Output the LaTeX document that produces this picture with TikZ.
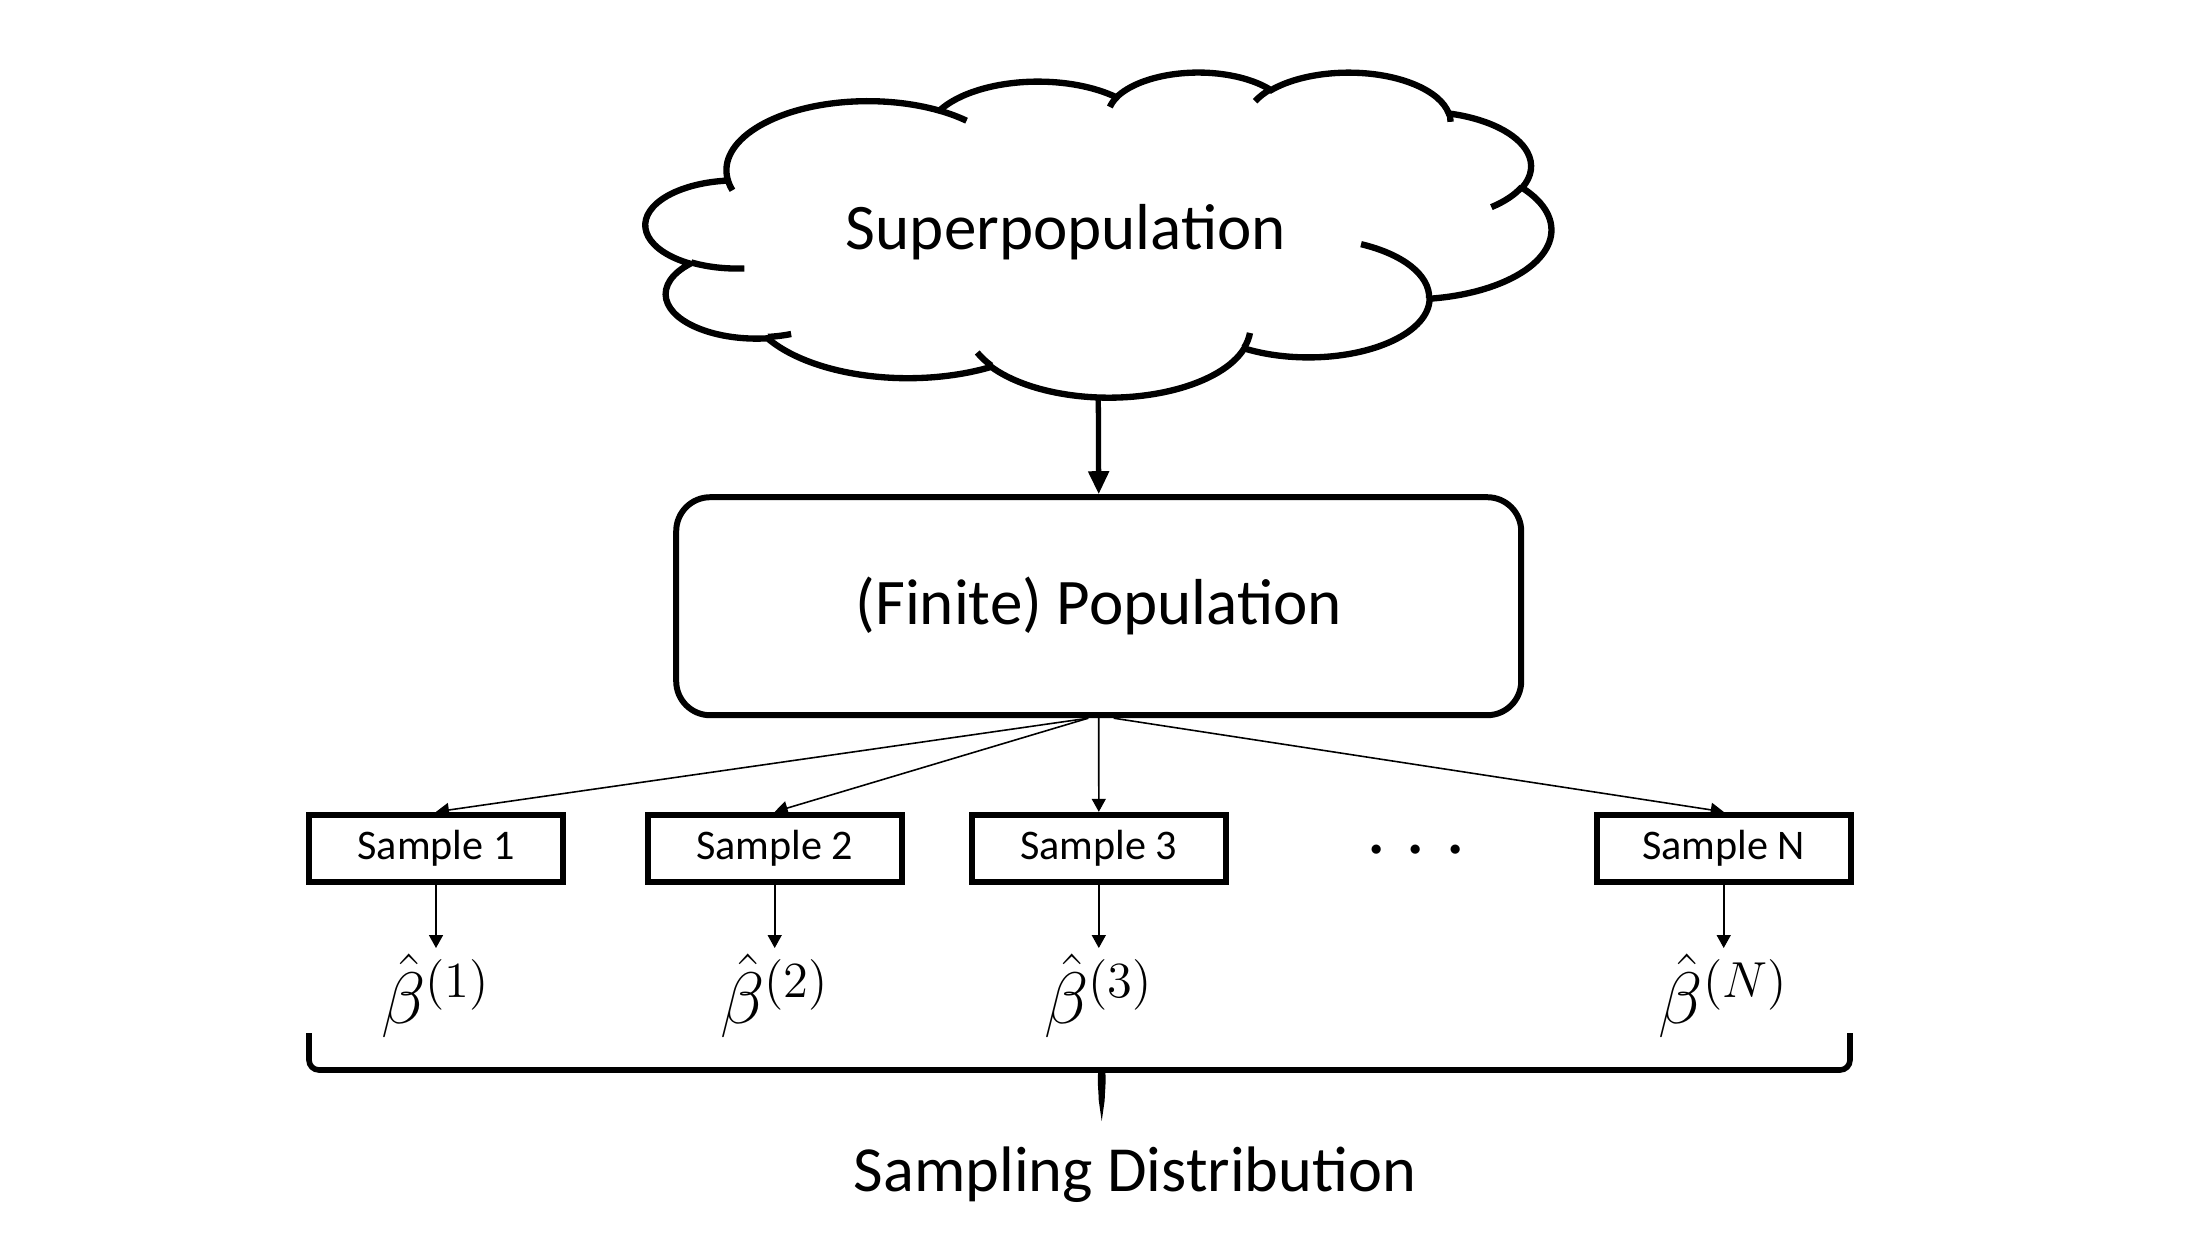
\documentclass[tikz,border=0pt]{standalone}
\usepackage{fontspec}
\setmainfont{Carlito}
\usetikzlibrary{arrows.meta}

\begin{document}
\begin{tikzpicture}[bigfont/.style={font=\fontsize{18.5}{22}\selectfont},
    samplebox/.style={draw, line width=1.7pt, minimum width=2.54cm, minimum height=0.67cm, inner sep=0pt, font=\fontsize{12}{14}\selectfont},
    betanode/.style={inner sep=1.5pt, font=\fontsize{19.5}{23}\selectfont},
    thinarrow/.style={-{Triangle[length=1.3mm, width=1.4mm]}, line width=0.45pt},
    cloudline/.style={line width=1.8pt},
    puff/.style n args={4}{x radius=#1, y radius=#2,
        start angle={atan2(#1*sin(#3),#2*cos(#3))},
        delta angle={mod(atan2(#1*sin(#3+#4),#2*cos(#3+#4))-atan2(#1*sin(#3),#2*cos(#3))+720,360)}},
    node distance=14.77mm]
        \useasboundingbox (0,0) rectangle (22,12.34);

        % cloud
        \begin{scope}[shift={(6.46,11.625)}, xscale=0.041898, yscale=-0.015046]
          \draw[cloudline] (19.5,71.85)
            arc[puff={33.765}{45.95}{-190.4875}{123.7805}]
            arc[puff={26.665}{36.335}{-144.1024}{89.9452}]
            arc[puff={21.825}{29.725}{-145.8079}{99.7230}]
            arc[puff={24.285}{32.975}{-130.9861}{117.2417}]
            arc[puff={26.665}{36.365}{-78.7089}{109.0269}]
            arc[puff={33.875}{46.1}{-46.2673}{130.2690}]
            arc[puff={28.925}{39.335}{0.6250}{114.0333}]
            arc[puff={33.76}{46.075}{22.4516}{115.1726}]
            arc[puff={38.6}{52.715}{66.2426}{75.7110}]
            arc[puff={21.8}{29.59}{-274.9421}{146.7356}]
            arc[puff={21.725}{29.725}{-246.8285}{152.5189}]
            -- cycle;
          \draw[cloudline]
            (23.465,130.885) arc[puff={21.725}{29.725}{86.7420}{26.4295}]
            (34.64,174.495) arc[puff={21.8}{29.59}{73.6105}{11.4475}]
            (82.39,195.45) arc[puff={33.76}{46.075}{137.6242}{14.0811}]
            (144.135,173.755) arc[puff={33.76}{46.075}{6.4533}{15.9984}]
            (170.645,114.77) arc[puff={28.925}{39.335}{-70.2924}{70.9174}]
            (208.99,76.77) arc[puff={26.665}{36.365}{30.3180}{27.7515}]
            (191.62,27.13) arc[puff={24.285}{32.975}{-13.7443}{14.8589}]
            (145.39,19.76) arc[puff={24.285}{32.975}{-149.1815}{18.1954}]
            (110.705,23.6) arc[puff={21.825}{29.725}{-163.4943}{17.6864}]
            (70,25.96) arc[puff={33.765}{45.95}{-66.7070}{12.3194}]
            (20.635,78.945) arc[puff={33.765}{45.95}{157.6544}{11.8582}];
        \end{scope}
        \coordinate (cloudbase) at (10.983,8.38);
        \node[bigfont, anchor=base] (super) at (10.66,9.845) {Superpopulation};

        \node[draw, line width=1.7pt, rounded corners=3.4mm, minimum width=8.45cm, minimum height=2.18cm, bigfont] (pop) at (10.987,6.278) {(Finite) Population};

        \node[samplebox] (s1) at (4.36,3.857) {Sample 1};
        \node[samplebox] (s2) at (7.747,3.857) {Sample 2};
        \node[samplebox] (s3) at (10.988,3.857) {Sample 3};
        \node[font=\fontsize{26}{30}\selectfont] (dots) at (14.16,3.82) {$\cdot$\hspace{1.5mm}$\cdot$\hspace{1.5mm}$\cdot$};
        \node[samplebox] (sN) at (17.237,3.857) {Sample N};

        \node[below of=s1, betanode] (b1) {$\hat{\beta}^{(1)}$};
        \node[below of=s2, betanode] (b2) {$\hat{\beta}^{(2)}$};
        \node[below of=s3, betanode] (b3) {$\hat{\beta}^{(3)}$};
        \node[below of=sN, betanode] (bN) {$\hat{\beta}^{(N)}$};

        \coordinate (braceL) at (3.09,2.01);
        \coordinate (braceR) at (18.50,2.01);
        \coordinate (braceTip) at (11.017,1.27);
        \node[font=\fontsize{18.3}{22}\selectfont, anchor=base] (dist) at (11.35,0.423) {Sampling Distribution};

        \draw[-{Triangle[length=2.3mm, width=2mm]}, line width=1.5pt] (cloudbase) -- (pop.north);

        \draw[thinarrow] ([xshift=-1.05mm]pop.south) -- (s1.north);
        \draw[thinarrow] ([xshift=-1.05mm]pop.south) -- (s2.north);
        \draw[thinarrow] (pop.south) -- (s3.north);
        \draw[thinarrow] ([xshift=1.5mm]pop.south) -- (sN.north);

        \draw[thinarrow] (s1.south) -- (b1.north);
        \draw[thinarrow] (s2.south) -- (b2.north);
        \draw[thinarrow] (s3.south) -- (b3.north);
        \draw[thinarrow] (sN.south) -- (bN.north);

        % brace
        \draw[line width=1.6pt, rounded corners=1mm] (braceL) |- (10.927,1.64)
          .. controls (10.99,1.64) and (11.012,1.45) .. (braceTip)
          .. controls (11.022,1.45) and (11.044,1.64) .. (11.107,1.64) -| (braceR);
      \end{tikzpicture}
\end{document}
